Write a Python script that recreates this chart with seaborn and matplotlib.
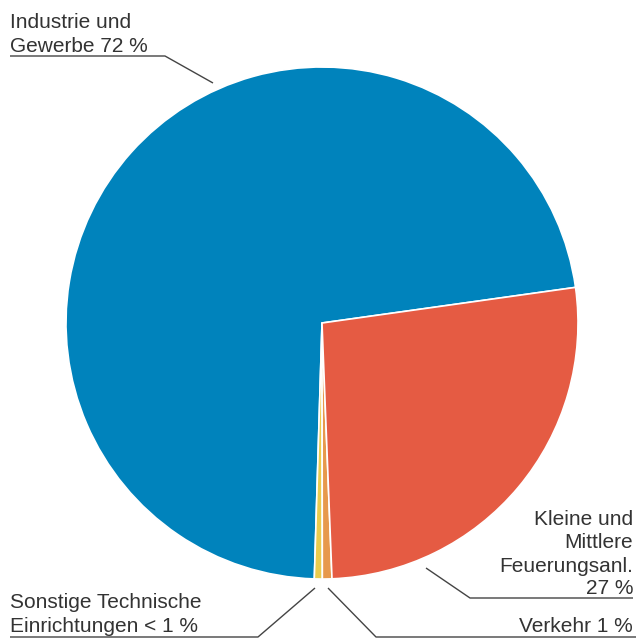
import matplotlib
matplotlib.use("Agg")
import matplotlib.pyplot as plt
import seaborn as sns

# Emission shares by source group (percent)
categories = ["Industrie und Gewerbe", "Sonstige Technische Einrichtungen",
              "Verkehr", "Kleine und Mittlere Feuerungsanl."]
shares = [72.3, 0.5, 0.6, 26.6]
colors = ["#0083BC", "#E9CC4E", "#E7994C", "#E55B43"]

label_lines = {
    "Industrie und Gewerbe": ["Industrie und", "Gewerbe 72 %"],
    "Sonstige Technische Einrichtungen": ["Sonstige Technische", "Einrichtungen < 1 %"],
    "Verkehr": ["Verkehr 1 %"],
    "Kleine und Mittlere Feuerungsanl.": ["Kleine und", "Mittlere", "Feuerungsanl.", "27 %"],
}

sns.set_theme(style="white")
plt.rcParams["font.family"] = ["Liberation Sans", "DejaVu Sans"]

W, H = 636, 639
fig = plt.figure(figsize=(W / 100, H / 100), dpi=100)
ax = fig.add_axes([0, 0, 1, 1])

def py(y):
    # pixel row (from top) -> data y
    return H - y

ax.pie(shares, colors=colors, startangle=8, counterclock=True,
       center=(322, py(323)), radius=256, frame=True,
       wedgeprops=dict(edgecolor="white", linewidth=1.2))
ax.set_xlim(0, W)
ax.set_ylim(0, H)
ax.set_aspect("equal")
ax.axis("off")

text_kw = dict(fontsize=15, color="#333333", va="baseline")
line_kw = dict(color="#444444", linewidth=1.0, solid_capstyle="butt")

# Industrie und Gewerbe (top left)
lines = label_lines[categories[0]]
ax.text(10, py(28), lines[0], ha="left", **text_kw)
ax.text(10, py(52), lines[1], ha="left", **text_kw)
ax.plot([10, 165, 213], [py(56), py(56), py(83)], **line_kw)

# Kleine und Mittlere Feuerungsanlagen (right)
lines = label_lines[categories[3]]
for txt, yb in zip(lines, [525, 548, 572, 594]):
    ax.text(633, py(yb), txt, ha="right", **text_kw)
ax.plot([426, 470, 633], [py(568), py(598), py(598)], **line_kw)

# Verkehr (bottom right)
ax.text(633, py(632), label_lines[categories[2]][0], ha="right", **text_kw)
ax.plot([328, 376, 636], [py(588), py(637), py(637)], **line_kw)

# Sonstige Technische Einrichtungen (bottom left)
lines = label_lines[categories[1]]
ax.text(10, py(608), lines[0], ha="left", **text_kw)
ax.text(10, py(632), lines[1], ha="left", **text_kw)
ax.plot([10, 258, 315], [py(637), py(637), py(588)], **line_kw)

fig.savefig("out.png", dpi=100, facecolor="white")
